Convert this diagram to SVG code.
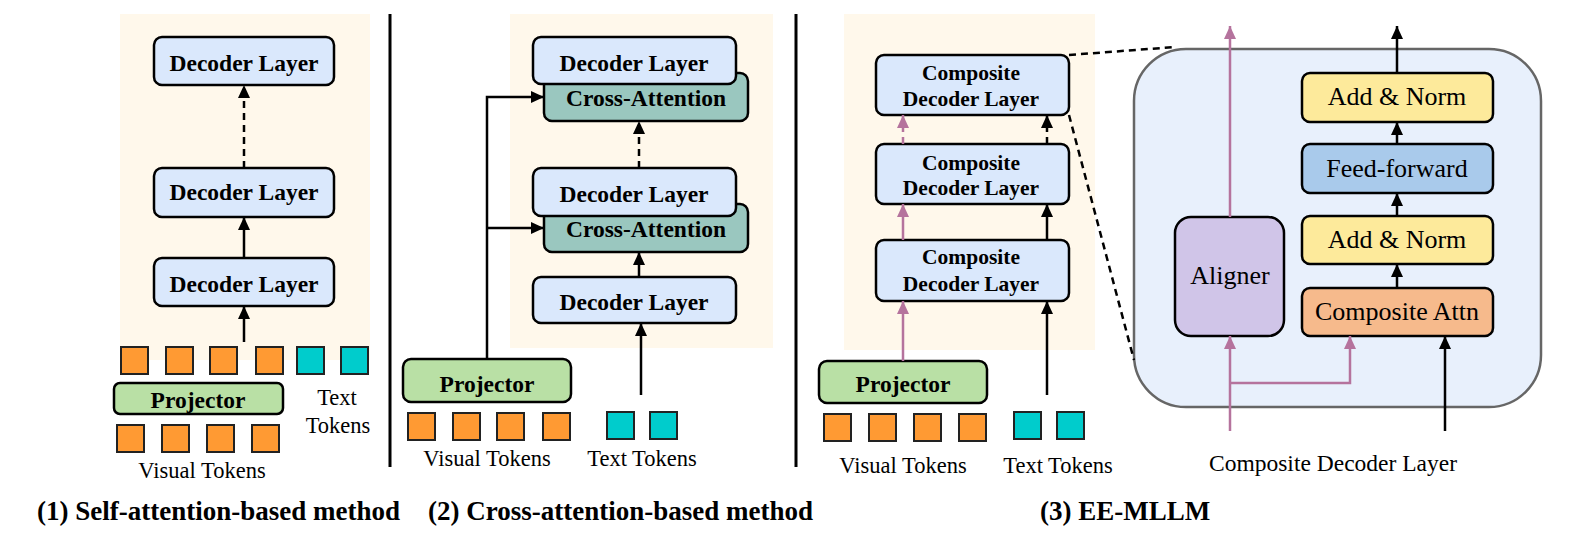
<svg xmlns="http://www.w3.org/2000/svg" width="1578" height="542" viewBox="0 0 1578 542">
<style>
text{font-family:"Liberation Serif","Times New Roman",serif;fill:#000}
.b{font-weight:bold;text-anchor:middle}
.r{text-anchor:middle}
.box{stroke:#000;stroke-width:2.5}
.dec{fill:#DAE8FC}
.proj{fill:#B9E0A5}
.cross{fill:#9AC7BF}
.vt{fill:#FF9A33;stroke:#222;stroke-width:2}
.tt{fill:#00CCCC;stroke:#222;stroke-width:2}
.bg{fill:#FFF8EB}
.ln{stroke:#000;stroke-width:2.5;fill:none}
.pk{stroke:#B5739D;stroke-width:2.5;fill:none}
.dash{stroke-dasharray:7 5}
.div{stroke:#000;stroke-width:3}
</style>
<defs>
<marker id="ab" markerUnits="userSpaceOnUse" markerWidth="13" markerHeight="12" refX="13" refY="6" orient="auto"><path d="M0,0 L13,6 L0,12 z" fill="#000"/></marker>
<marker id="ap" markerUnits="userSpaceOnUse" markerWidth="13" markerHeight="12" refX="13" refY="6" orient="auto"><path d="M0,0 L13,6 L0,12 z" fill="#B5739D"/></marker>
</defs>
<rect width="1578" height="542" fill="#fff"/>
<!-- backgrounds -->
<rect class="bg" x="120" y="14" width="250" height="346"/>
<rect class="bg" x="510" y="14" width="263" height="334"/>
<rect class="bg" x="844" y="14" width="251" height="336"/>
<!-- dividers -->
<line class="div" x1="390" y1="14" x2="390" y2="467"/>
<line class="div" x1="796" y1="14" x2="796" y2="467"/>

<!-- Panel 1 -->
<g id="p1-dec-top"><rect class="box dec" x="154" y="37" width="180" height="48" rx="8"/><text class="b" x="244" y="71" font-size="23.5">Decoder Layer</text></g>
<g id="p1-dec-mid"><rect class="box dec" x="154" y="168" width="180" height="49" rx="8"/><text class="b" x="244" y="200" font-size="23.5">Decoder Layer</text></g>
<g id="p1-dec-bot"><rect class="box dec" x="154" y="258" width="180" height="48" rx="8"/><text class="b" x="244" y="292" font-size="23.5">Decoder Layer</text></g>
<g id="p1-tokens-top">
<rect class="vt" x="121" y="347" width="27" height="27"/><rect class="vt" x="166" y="347" width="27" height="27"/><rect class="vt" x="210" y="347" width="27" height="27"/><rect class="vt" x="256" y="347" width="27" height="27"/>
<rect class="tt" x="297" y="347" width="27" height="27"/><rect class="tt" x="341" y="347" width="27" height="27"/>
</g>
<g id="p1-projector"><rect class="box proj" x="114" y="383" width="169" height="31" rx="6"/><text class="b" x="198" y="408" font-size="23.5">Projector</text></g>
<g id="p1-text-label"><text class="r" x="337" y="405" font-size="22.5">Text</text><text class="r" x="338" y="433" font-size="22.5">Tokens</text></g>
<g id="p1-visual-tokens">
<rect class="vt" x="117" y="425" width="27" height="27"/><rect class="vt" x="162" y="425" width="27" height="27"/><rect class="vt" x="207" y="425" width="27" height="27"/><rect class="vt" x="252" y="425" width="27" height="27"/>
<text class="r" x="202" y="478" font-size="22.5">Visual Tokens</text>
</g>

<!-- Panel 2 -->
<g id="p2-layer-top"><rect class="box cross" x="544" y="73" width="204" height="48" rx="8"/><text class="b" x="646" y="106" font-size="23.5">Cross-Attention</text>
<rect class="box dec" x="533" y="37" width="203" height="47" rx="8"/><text class="b" x="634" y="71" font-size="23.5">Decoder Layer</text></g>
<g id="p2-layer-mid"><rect class="box cross" x="544" y="204" width="204" height="48" rx="8"/><text class="b" x="646" y="237" font-size="23.5">Cross-Attention</text>
<rect class="box dec" x="533" y="168" width="203" height="48" rx="8"/><text class="b" x="634" y="202" font-size="23.5">Decoder Layer</text></g>
<g id="p2-dec-bot"><rect class="box dec" x="533" y="277" width="203" height="46" rx="8"/><text class="b" x="634" y="310" font-size="23.5">Decoder Layer</text></g>
<g id="p2-projector"><rect class="box proj" x="403" y="359" width="168" height="43" rx="8"/><text class="b" x="487" y="392" font-size="23.5">Projector</text></g>
<g id="p2-visual-tokens">
<rect class="vt" x="408" y="413" width="27" height="27"/><rect class="vt" x="453" y="413" width="27" height="27"/><rect class="vt" x="497" y="413" width="27" height="27"/><rect class="vt" x="543" y="413" width="27" height="27"/>
<text class="r" x="487" y="466" font-size="22.5">Visual Tokens</text>
</g>
<g id="p2-text-tokens">
<rect class="tt" x="607" y="412" width="27" height="27"/><rect class="tt" x="650" y="412" width="27" height="27"/>
<text class="r" x="642" y="466" font-size="22.5">Text Tokens</text>
</g>

<!-- Panel 3 -->
<g id="p3-cdl-top"><rect class="box dec" x="876" y="55" width="193" height="60" rx="8"/><text class="b" x="971" y="80" font-size="21.5">Composite</text><text class="b" x="971" y="106" font-size="21.5">Decoder Layer</text></g>
<g id="p3-cdl-mid"><rect class="box dec" x="876" y="144" width="193" height="60" rx="8"/><text class="b" x="971" y="170" font-size="21.5">Composite</text><text class="b" x="971" y="195" font-size="21.5">Decoder Layer</text></g>
<g id="p3-cdl-bot"><rect class="box dec" x="876" y="240" width="193" height="61" rx="8"/><text class="b" x="971" y="264" font-size="21.5">Composite</text><text class="b" x="971" y="291" font-size="21.5">Decoder Layer</text></g>
<g id="p3-projector"><rect class="box proj" x="819" y="361" width="168" height="42" rx="8"/><text class="b" x="903" y="392" font-size="23.5">Projector</text></g>
<g id="p3-visual-tokens">
<rect class="vt" x="824" y="414" width="27" height="27"/><rect class="vt" x="869" y="414" width="27" height="27"/><rect class="vt" x="914" y="414" width="27" height="27"/><rect class="vt" x="959" y="414" width="27" height="27"/>
<text class="r" x="903" y="473" font-size="22.5">Visual Tokens</text>
</g>
<g id="p3-text-tokens">
<rect class="tt" x="1014" y="412" width="27" height="27"/><rect class="tt" x="1057" y="412" width="27" height="27"/>
<text class="r" x="1058" y="473" font-size="22.5">Text Tokens</text>
</g>

<!-- Composite decoder detail -->
<g id="cdl-detail"><rect x="1134" y="49" width="407" height="358" rx="52" fill="#E8F0FC" stroke="#666" stroke-width="2.5"/></g>
<g id="cdl-addnorm-top"><rect class="box" fill="#FDEA9B" x="1302" y="73" width="191" height="49" rx="8"/><text class="r" x="1397" y="105" font-size="26">Add &amp; Norm</text></g>
<g id="cdl-ff"><rect class="box" fill="#A9CAEB" x="1302" y="144" width="191" height="49" rx="8"/><text class="r" x="1397" y="177" font-size="26">Feed-forward</text></g>
<g id="cdl-addnorm-bot"><rect class="box" fill="#FDEA9B" x="1302" y="216" width="191" height="48" rx="8"/><text class="r" x="1397" y="248" font-size="26">Add &amp; Norm</text></g>
<g id="cdl-attn"><rect class="box" fill="#F6BA8C" x="1302" y="288" width="191" height="48" rx="8"/><text class="r" x="1397" y="320" font-size="26">Composite Attn</text></g>
<g id="cdl-aligner"><rect class="box" fill="#D0C5E8" x="1175" y="217" width="109" height="119" rx="16"/><text class="r" x="1230" y="284" font-size="26">Aligner</text></g>
<g id="cdl-label"><text class="r" x="1333" y="471" font-size="23.5">Composite Decoder Layer</text></g>

<!-- connectors -->
<g id="connectors">
<line class="ln dash" x1="244" y1="168" x2="244" y2="85" marker-end="url(#ab)"/>
<line class="ln" x1="244" y1="258" x2="244" y2="217" marker-end="url(#ab)"/>
<line class="ln" x1="244" y1="342" x2="244" y2="306" marker-end="url(#ab)"/>

<line class="ln dash" x1="639" y1="168" x2="639" y2="121" marker-end="url(#ab)"/>
<line class="ln" x1="639" y1="277" x2="639" y2="252" marker-end="url(#ab)"/>
<line class="ln" x1="641" y1="395" x2="641" y2="323" marker-end="url(#ab)"/>
<path class="ln" d="M487,359 L487,97 L544,97" marker-end="url(#ab)"/>
<path class="ln" d="M487,228 L544,228" marker-end="url(#ab)"/>

<line class="pk dash" x1="903" y1="144" x2="903" y2="115" marker-end="url(#ap)"/>
<line class="ln dash" x1="1047" y1="144" x2="1047" y2="115" marker-end="url(#ab)"/>
<line class="pk" x1="903" y1="240" x2="903" y2="204" marker-end="url(#ap)"/>
<line class="ln" x1="1047" y1="240" x2="1047" y2="204" marker-end="url(#ab)"/>
<line class="pk" x1="903" y1="361" x2="903" y2="301" marker-end="url(#ap)"/>
<line class="ln" x1="1047" y1="395" x2="1047" y2="301" marker-end="url(#ab)"/>

<line class="ln dash" x1="1069" y1="55" x2="1175" y2="47"/>
<line class="ln dash" x1="1069" y1="115" x2="1134" y2="360"/>

<line class="pk" x1="1230" y1="217" x2="1230" y2="26" marker-end="url(#ap)"/>
<line class="ln" x1="1397" y1="73" x2="1397" y2="26" marker-end="url(#ab)"/>
<line class="ln" x1="1397" y1="144" x2="1397" y2="122" marker-end="url(#ab)"/>
<line class="ln" x1="1397" y1="216" x2="1397" y2="193" marker-end="url(#ab)"/>
<line class="ln" x1="1397" y1="288" x2="1397" y2="264" marker-end="url(#ab)"/>
<line class="pk" x1="1230" y1="431" x2="1230" y2="336" marker-end="url(#ap)"/>
<path class="pk" d="M1230,383 L1350,383 L1350,336" marker-end="url(#ap)"/>
<line class="ln" x1="1445" y1="431" x2="1445" y2="336" marker-end="url(#ab)"/>
</g>

<!-- captions -->
<text x="37" y="520" font-size="27" font-weight="bold">(1) Self-attention-based method</text>
<text x="428" y="520" font-size="27" font-weight="bold">(2) Cross-attention-based method</text>
<text x="1040" y="520" font-size="27" font-weight="bold">(3) EE-MLLM</text>
</svg>
